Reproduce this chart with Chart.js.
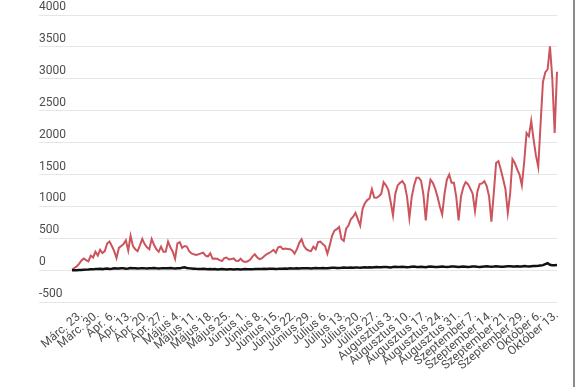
<!DOCTYPE html>
<html lang="hu">
<head>
    <meta charset="UTF-8">
    <title>Napi esetek</title>
    <script src="https://cdn.jsdelivr.net/npm/chart.js"></script>
    <style>
        body {
            margin: 0;
            background: #fff;
        }
        #wrap {
            width: 575px;
            height: 387px;
            box-sizing: border-box;
            border-right: 2px solid #8a8a8a;
        }
    </style>
</head>
<body>
    <div id="wrap">
        <canvas id="covidChart" width="573" height="387"></canvas>
    </div>

    <script>
        // weekly tick labels, first one falls on the 5th day of data
        const tickLabels = [
            'Márc. 23.', 'Márc. 30.', 'Ápr. 6.', 'Ápr. 13.', 'Ápr. 20.', 'Ápr. 27.',
            'Május 4.', 'Május 11.', 'Május 18.', 'Május 25.',
            'Június 1.', 'Június 8.', 'Június 15.', 'Június 22.', 'Június 29.',
            'Július 6.', 'Július 13.', 'Július 20.', 'Július 27.',
            'Augusztus 3.', 'Augusztus 10.', 'Augusztus 17.', 'Augusztus 24.', 'Augusztus 31.',
            'Szeptember 7.', 'Szeptember 14.', 'Szeptember 21.', 'Szeptember 29.',
            'Október 6.', 'Október 13.'
        ];
        const firstTickDay = 4;
        const tickStep = 7;

        const yTicks = [-500, 0, 500, 1000, 1500, 2000, 2500, 3000, 3500, 4000];

        // daily values (red)
        const redSeries = [
            10, 35, 60, 100, 150, 185, 160, 140, 230, 200,
            290, 230, 320, 270, 300, 420, 450, 380, 300, 190,
            350, 380, 410, 470, 310, 540, 380, 330, 300, 390,
            490, 410, 360, 330, 490, 400, 330, 290, 370, 290,
            290, 450, 360, 290, 180, 420, 440, 350, 380, 370,
            300, 265, 250, 240, 250, 265, 275, 230, 215, 265,
            180, 185, 180, 160, 145, 190, 200, 170, 175, 185,
            150, 145, 180, 140, 130, 140, 165, 215, 250, 205,
            175, 185, 220, 250, 270, 290, 320, 275, 360, 370,
            330, 340, 335, 330, 310, 260, 330, 430, 485, 380,
            330, 310, 300, 370, 330, 440, 450, 410, 380, 260,
            390, 540, 620, 645, 680, 490, 460, 650, 700, 800,
            840, 900, 800, 700, 960, 1050, 1100, 1125, 1270, 1140,
            1135, 1160, 1200, 1380, 1330, 1260, 1070, 860, 1200, 1330,
            1370, 1395, 1340, 1150, 820, 1150, 1330, 1450, 1450, 1400,
            1180, 780, 1200, 1420, 1370, 1280, 1150, 1000, 875, 1200,
            1420, 1500, 1370, 1370, 1150, 780, 1150, 1300, 1380, 1350,
            1280, 1200, 930, 1230, 1350, 1360, 1395, 1320, 1160, 760,
            1200, 1680, 1710, 1580, 1430, 1270, 900, 1200, 1740, 1680,
            1580, 1500, 1330, 1700, 2150, 2100, 2340, 2050, 1800, 1620,
            2300, 2950, 3100, 3150, 3510, 3000, 2150, 3110
        ];

        // daily values (black)
        const blackSeries = [
            0, 0, 1, 3, 5, 8, 10, 12, 15, 14,
            18, 20, 22, 18, 25, 28, 20, 24, 30, 26,
            28, 32, 30, 25, 28, 35, 30, 32, 28, 30,
            33, 30, 28, 32, 30, 35, 31, 28, 30, 33,
            30, 32, 35, 30, 28, 32, 30, 38, 45, 35,
            30, 28, 25, 22, 20, 18, 22, 20, 15, 18,
            15, 18, 12, 15, 18, 15, 12, 14, 16, 12,
            14, 16, 12, 15, 18, 15, 16, 14, 18, 20,
            18, 20, 22, 20, 24, 22, 25, 20, 22, 25,
            24, 28, 25, 30, 28, 26, 30, 28, 32, 30,
            32, 30, 28, 32, 35, 30, 33, 35, 32, 30,
            35, 38, 40, 36, 35, 38, 42, 40, 38, 42,
            40, 45, 42, 40, 45, 48, 44, 46, 42, 48,
            50, 46, 48, 52, 50, 48, 45, 50, 55, 52,
            50, 55, 52, 48, 50, 55, 58, 52, 50, 55,
            52, 48, 55, 60, 56, 52, 50, 55, 58, 54,
            52, 55, 60, 58, 55, 50, 54, 58, 55, 52,
            55, 60, 58, 54, 52, 56, 60, 62, 58, 55,
            58, 62, 60, 56, 55, 60, 64, 62, 58, 60,
            62, 58, 60, 65, 62, 60, 64, 68, 66, 70,
            75, 80, 95, 110, 85, 78, 80, 82
        ];

        // one category per day, only every 7th gets a label
        const labels = redSeries.map((v, i) => {
            const k = (i - firstTickDay) / tickStep;
            return (i >= firstTickDay && Number.isInteger(k) && tickLabels[k]) ? tickLabels[k] : '';
        });

        const ctx = document.getElementById('covidChart').getContext('2d');
        new Chart(ctx, {
            type: 'line',
            data: {
                labels: labels,
                datasets: [{
                    data: blackSeries,
                    borderColor: '#111111',
                    borderWidth: 2.5,
                    pointRadius: 0,
                    fill: false
                },
                {
                    data: redSeries,
                    borderColor: '#cc555d',
                    borderWidth: 2,
                    pointRadius: 0,
                    fill: false
                }]
            },
            options: {
                responsive: false,
                animation: false,
                devicePixelRatio: 1,
                layout: {
                    padding: { left: 39, right: 16, top: 15, bottom: 8 }
                },
                plugins: {
                    legend: { display: false },
                    tooltip: { enabled: false }
                },
                scales: {
                    x: {
                        grid: { display: false, drawTicks: false },
                        border: { display: false },
                        ticks: {
                            autoSkip: false,
                            minRotation: 40,
                            maxRotation: 40,
                            padding: 6,
                            color: '#4d4d4d',
                            font: { family: 'Roboto', size: 12 }
                        }
                    },
                    y: {
                        min: -500,
                        max: 4000,
                        afterBuildTicks: (scale) => {
                            scale.ticks = yTicks.map(v => ({ value: v }));
                        },
                        afterFit: (scale) => {
                            scale.width = 33;
                        },
                        grid: {
                            color: '#e6e6e6',
                            lineWidth: 1,
                            drawTicks: true,
                            tickLength: 33
                        },
                        border: { display: false },
                        ticks: {
                            crossAlign: 'far',
                            labelOffset: -8,
                            padding: 0,
                            color: '#4d4d4d',
                            font: { family: 'Roboto', size: 12 },
                            callback: (v) => String(v)
                        }
                    }
                }
            }
        });
    </script>
</body>
</html>
